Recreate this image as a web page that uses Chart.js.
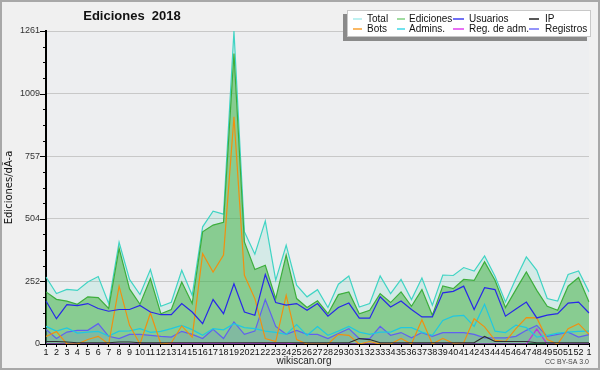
<!DOCTYPE html>
<html><head><meta charset="utf-8">
<script src="https://cdn.jsdelivr.net/npm/chart.js@4/dist/chart.umd.min.js"></script>
<style>html,body{margin:0;padding:0;background:#f0f0f0;}canvas{display:block;}</style>
</head><body>
<canvas id="c" width="600" height="370"></canvas>
<script>
const weeks = ["1","2","3","4","5","6","7","8","9","10","11","12","13","14","15","16","17","18","19","20","21","22","23","24","25","26","27","28","29","30","31","32","33","34","35","36","37","38","39","40","41","42","43","44","45","46","47","48","49","50","51","52","1"];
const total = [270,203,220,216,250,272,163,410,260,199,300,152,168,297,196,472,535,523,1261,452,362,495,257,398,237,190,219,147,241,274,149,163,274,203,260,179,266,156,278,276,308,294,355,273,169,264,351,297,183,173,280,294,210];
const ediciones = [210,180,173,160,190,187,143,385,222,160,264,122,139,250,163,452,479,490,1170,411,300,317,183,358,183,147,174,122,199,210,122,136,203,167,210,152,219,116,234,223,260,256,331,257,147,219,290,216,152,136,233,268,169];
const usuarios = [173,102,159,155,163,143,132,139,139,155,129,118,118,163,129,82,179,122,243,129,116,280,167,157,163,136,163,112,147,165,104,104,190,149,173,139,109,109,206,212,233,139,227,219,112,141,169,105,116,122,165,169,125];
const ip = [10,10,8,5,5,5,5,8,8,5,5,5,5,5,5,5,5,5,5,5,5,5,5,5,5,5,5,5,5,5,22,18,5,5,5,5,5,5,5,5,5,5,30,10,10,10,10,5,5,5,5,5,5];
const bots = [30,50,0,0,18,31,0,233,75,0,125,0,5,73,28,364,290,358,915,277,183,22,10,196,18,0,0,0,39,35,0,10,0,0,22,0,98,0,22,3,5,102,69,15,10,62,106,105,18,0,62,82,39];
const admins = [71,52,65,44,48,51,32,52,53,62,47,51,62,75,58,35,62,57,82,66,62,52,47,39,78,35,70,35,52,71,48,39,48,48,66,66,48,35,95,112,115,71,160,52,46,76,66,28,35,44,48,51,52];
const regAdm = [0,0,0,0,0,0,0,0,0,0,0,0,3,3,3,3,3,3,3,3,3,3,3,3,0,0,0,0,0,0,0,0,0,0,0,0,0,0,0,0,0,0,0,0,0,0,0,60,0,0,0,0,0];
const registros = [59,22,48,55,55,82,31,22,39,39,35,31,28,51,39,22,59,22,89,39,52,179,71,39,55,39,39,22,42,62,22,22,71,35,46,25,46,31,46,46,46,39,25,25,25,31,55,75,31,39,48,28,38];
const yMax = 1261;
const seriesNames = ["Total","Ediciones","Usuarios","IP","Bots","Admins.","Reg. de adm.","Registros"];
const chartTitle = "Ediciones  2018";
const yTitle = "Ediciones/dÃ-a";

const FONT = "'Liberation Sans', Arial, sans-serif";
Chart.defaults.font.family = FONT;

const colors = {
  "Total": "#40d4c4", "Ediciones": "#3cae3c", "Usuarios": "#2828e8", "IP": "#303030",
  "Bots": "#f09010", "Admins.": "#20c8e0", "Reg. de adm.": "#c030e0", "Registros": "#6060f0"
};
const legendColors = {
  "Total": "#a8ecec", "Ediciones": "#80d080", "Usuarios": "#4040f0", "IP": "#202020",
  "Bots": "#f8a030", "Admins.": "#40d8e8", "Reg. de adm.": "#e040f0", "Registros": "#7070f8"
};
const values = {
  "Total": total, "Ediciones": ediciones, "Usuarios": usuarios, "IP": ip,
  "Bots": bots, "Admins.": admins, "Reg. de adm.": regAdm, "Registros": registros
};
const fills = {
  "Total": "rgba(64,212,176,0.14)", "Ediciones": "rgba(60,174,60,0.5)", "Registros": "rgba(96,96,240,0.16)"
};
const orders = {"Total": 3, "Ediciones": 2, "Registros": 1};

const datasets = seriesNames.map(n => ({
  label: n,
  data: values[n],
  borderColor: colors[n],
  backgroundColor: fills[n] || colors[n],
  fill: fills[n] ? 'origin' : false,
  borderWidth: 1.2,
  pointRadius: 0,
  tension: 0,
  order: orders[n] || 0
}));

const decor = {
  id: 'decor',
  beforeDraw(chart) {
    const ctx = chart.ctx, a = chart.chartArea;
    ctx.save();
    ctx.fillStyle = '#f0f0f0';
    ctx.fillRect(0, 0, chart.width, chart.height);
    ctx.strokeStyle = '#a8a8a8';
    ctx.lineWidth = 2;
    ctx.strokeRect(1, 1, chart.width - 2, chart.height - 2);
    ctx.fillStyle = '#edeef0';
    ctx.fillRect(a.left, a.top, a.right - a.left, a.bottom - a.top);
    ctx.restore();
  },
  afterDraw(chart) {
    const ctx = chart.ctx, a = chart.chartArea, ys = chart.scales.y;
    ctx.save();
    ctx.strokeStyle = '#000';
    ctx.lineWidth = 1;
    ys.ticks.forEach((t, i) => {
      const y = Math.round(ys.getPixelForValue(t.value)) + 0.5;
      const len = i % 4 === 0 ? 6 : 3;
      ctx.beginPath();
      ctx.moveTo(a.left - len, y);
      ctx.lineTo(a.left, y);
      ctx.stroke();
    });
    ctx.fillStyle = '#111';
    ctx.font = 'bold 13px ' + FONT;
    ctx.textAlign = 'center';
    ctx.textBaseline = 'middle';
    ctx.fillText(chartTitle, 132, 16);
    ctx.font = '10px ' + FONT;
    ctx.fillStyle = '#222';
    ctx.fillText('wikiscan.org', 304, 361);
    ctx.font = '7px ' + FONT;
    ctx.fillStyle = '#444';
    ctx.textAlign = 'right';
    ctx.fillText('CC BY-SA 3.0', 589, 362);
    const bx = 347, by = 10, bw = 244, bh = 27;
    ctx.fillStyle = '#8a8a8a';
    ctx.fillRect(bx - 4, by + 4, bw, bh);
    ctx.fillStyle = '#ffffff';
    ctx.fillRect(bx, by, bw, bh);
    ctx.strokeStyle = '#c8c8c8';
    ctx.lineWidth = 1;
    ctx.strokeRect(bx + 0.5, by + 0.5, bw - 1, bh - 1);
    const cols = [[353, 362, 367], [397, 405, 409], [453, 464, 469], [529, 539, 545]];
    const rows = [19, 29];
    ctx.font = '10px ' + FONT;
    ctx.textAlign = 'left';
    ctx.textBaseline = 'middle';
    chart.data.datasets.forEach((d, i) => {
      const c = cols[i % 4], y = rows[Math.floor(i / 4)];
      ctx.strokeStyle = legendColors[d.label];
      ctx.lineWidth = 1.5;
      ctx.beginPath();
      ctx.moveTo(c[0], y);
      ctx.lineTo(c[1], y);
      ctx.stroke();
      ctx.fillStyle = '#111';
      ctx.fillText(d.label, c[2], y + 0.5);
    });
    ctx.restore();
  }
};

new Chart(document.getElementById('c'), {
  type: 'line',
  data: { labels: weeks, datasets },
  options: {
    responsive: false,
    animation: false,
    events: [],
    layout: { padding: { top: 31, right: 11, left: 0, bottom: 0 } },
    plugins: {
      legend: { display: false },
      title: { display: false },
      tooltip: { enabled: false },
      filler: { drawTime: 'beforeDatasetsDraw' }
    },
    scales: {
      x: {
        offset: false,
        grid: { drawOnChartArea: false, drawTicks: true, tickLength: 3, tickColor: '#000', tickWidth: 1 },
        border: { color: '#000', width: 2 },
        ticks: { autoSkip: false, maxRotation: 0, minRotation: 0, padding: 0, color: '#111', font: { size: 9 } },
        afterFit(s) { s.height = 26; }
      },
      y: {
        min: 0, max: yMax,
        afterBuildTicks(s) {
          const t = [];
          for (let i = 0; i <= 20; i++) t.push({ value: i * yMax / 20 });
          s.ticks = t;
        },
        grid: {
          drawTicks: false,
          color: c => (c.index % 4 === 0 && c.index > 0) ? '#c8c8c8' : 'rgba(0,0,0,0)',
          lineWidth: 1
        },
        border: { color: '#000', width: 2 },
        ticks: {
          padding: 6, color: '#333', font: { size: 9 },
          callback: (v, i) => i % 4 === 0 ? String(Math.round(v)) : ''
        },
        title: { display: true, text: yTitle, color: '#111', font: { size: 10, family: "'DejaVu Sans', sans-serif" }, padding: 3 },
        afterFit(s) { s.width = 46; }
      }
    }
  },
  plugins: [decor]
});
</script>
</body></html>
